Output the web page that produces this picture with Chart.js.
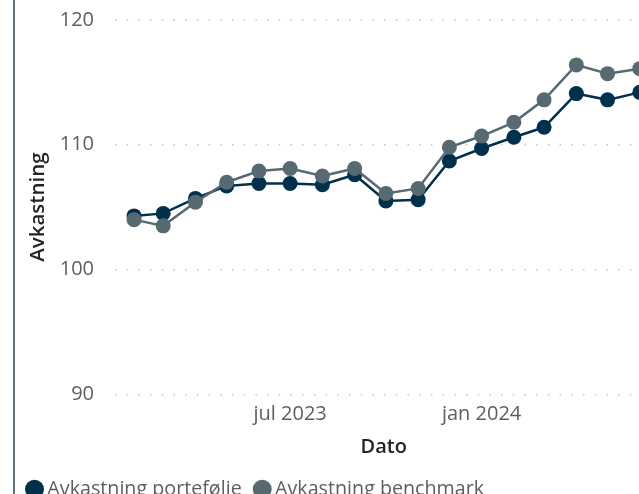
<!DOCTYPE html>
<html>
<head>
<meta charset="utf-8">
<script src="https://cdn.jsdelivr.net/npm/chart.js@4"></script>
<style>
  html, body { margin: 0; padding: 0; background: #fff; overflow: hidden; }
  #wrap { position: relative; width: 639px; height: 494px; overflow: hidden; }
  #edge { position: absolute; left: 13px; top: 0; width: 2px; height: 494px; background: #5f7078; }
  #box { position: absolute; left: 0; top: 0; width: 660px; height: 509px; }
</style>
</head>
<body>
<div id="wrap">
  <div id="box"><canvas id="avkChart"></canvas></div>
  <div id="edge"></div>
</div>
<script>
// Data lest av bildet
const dates = ['2023-02-01','2023-03-01','2023-04-01','2023-05-01','2023-06-01','2023-07-01',
  '2023-08-01','2023-09-01','2023-10-01','2023-11-01','2023-12-01','2024-01-01',
  '2024-02-01','2024-03-01','2024-04-01','2024-05-01','2024-06-01'];
const portefolje = [104.3, 104.5, 105.7, 106.7, 106.9, 106.9, 106.8, 107.6, 105.5, 105.6,
  108.7, 109.7, 110.6, 111.4, 114.1, 113.6, 114.2];
const benchmark = [104.0, 103.5, 105.4, 107.0, 107.9, 108.1, 107.5, 108.1, 106.1, 106.5,
  109.8, 110.7, 111.8, 113.6, 116.4, 115.7, 116.1];
const tickDates = ['2023-07-01', '2024-01-01'];
const tickLabels = ['jul 2023', 'jan 2024'];
const yTicks = [90, 100, 110, 120];

const day = s => Date.parse(s) / 864e5;
const navy = '#01304d';
const grey = '#586a71';
const font = "'Segoe UI', 'Open Sans', sans-serif";

document.addEventListener("DOMContentLoaded", function () {
  const toPts = vals => vals.map((v, i) => ({ x: day(dates[i]), y: v }));
  const xMin = day(dates[0]) - 18.3;

  new Chart(document.getElementById('avkChart').getContext('2d'), {
    type: 'line',
    data: {
      datasets: [
        {
          label: 'Avkastning benchmark',
          data: toPts(benchmark),
          borderColor: grey, backgroundColor: grey,
          pointBackgroundColor: grey, pointBorderColor: grey,
          borderWidth: 2.5, pointRadius: 7.5, pointBorderWidth: 0
        },
        {
          label: 'Avkastning portefølje',
          data: toPts(portefolje),
          borderColor: navy, backgroundColor: navy,
          pointBackgroundColor: navy, pointBorderColor: navy,
          borderWidth: 2.5, pointRadius: 7.5, pointBorderWidth: 0
        }
      ]
    },
    options: {
      responsive: true,
      maintainAspectRatio: false,
      animation: false,
      layout: { padding: { top: 20, left: 14, right: 0, bottom: 0 } },
      plugins: {
        tooltip: { enabled: false },
        legend: {
          position: 'bottom',
          align: 'start',
          labels: {
            usePointStyle: true,
            pointStyle: 'circle',
            boxWidth: 6,
            boxHeight: 13.4,
            padding: 17.5,
            color: '#605e5c',
            font: { family: font, size: 19.7 },
            sort: (a, b) => b.datasetIndex - a.datasetIndex
          }
        }
      },
      scales: {
        x: {
          type: 'linear',
          min: xMin,
          max: xMin + 516.5,
          grid: { display: false, drawTicks: false },
          border: { display: false },
          afterBuildTicks: s => { s.ticks = tickDates.map(d => ({ value: day(d) })); },
          afterFit: s => { s.height = 67.5; },
          ticks: {
            autoSkip: false, maxRotation: 0, padding: 8,
            color: '#605e5c',
            font: { family: font, size: 20 },
            callback: (v) => tickLabels[tickDates.findIndex(d => day(d) === v)]
          },
          title: {
            display: true, text: 'Dato', color: '#252423',
            padding: { top: 0, bottom: 2.5 },
            font: { family: font, size: 20, weight: '600' }
          }
        },
        y: {
          min: 90, max: 120,
          afterBuildTicks: s => { s.ticks = yTicks.map(v => ({ value: v })); },
          afterFit: s => { s.width = 101; s.paddingTop = 0; s.paddingBottom = 0; },
          grid: { color: '#c8c6c4', lineWidth: 1.5, drawTicks: false },
          border: { display: false, dash: [1.5, 10.2] },
          ticks: {
            padding: 21, color: '#605e5c',
            font: { family: font, size: 20 }
          },
          title: {
            display: true, text: 'Avkastning', color: '#252423',
            padding: { top: 12, bottom: 0 },
            font: { family: font, size: 20.5, weight: '600' }
          }
        }
      }
    }
  });
});
</script>
</body>
</html>
